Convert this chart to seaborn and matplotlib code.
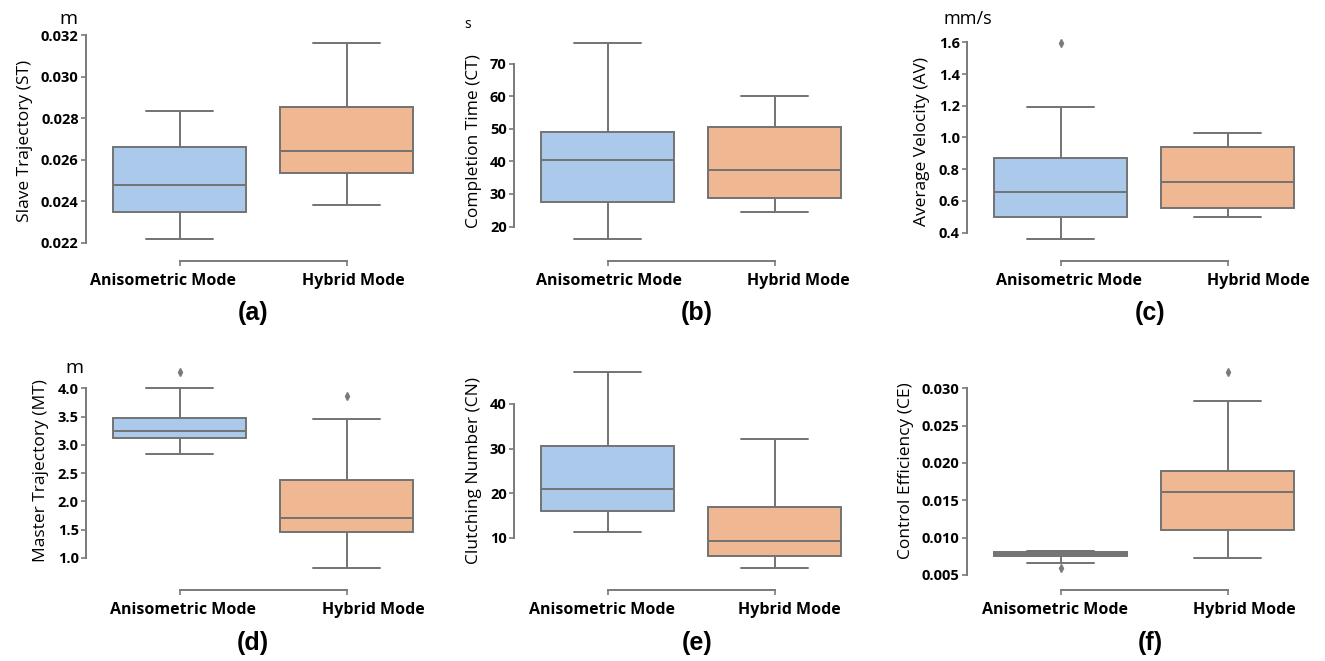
import matplotlib
matplotlib.use("Agg")
import matplotlib.pyplot as plt
from matplotlib.ticker import MultipleLocator
from matplotlib.transforms import ScaledTranslation
import seaborn as sns
import pandas as pd

# categories
modes = ["Anisometric Mode", "Hybrid Mode"]

# samples (whisker ends, quartiles, median, outliers)
st_aniso = [0.02216, 0.0230, 0.02349, 0.0241, 0.02477, 0.0256, 0.02659, 0.0275, 0.02832]
st_hybrid = [0.02381, 0.0249, 0.02536, 0.0259, 0.0264, 0.0275, 0.02851, 0.0300, 0.0316]

ct_aniso = [16.1, 22.0, 27.4, 35.0, 40.4, 45.0, 48.9, 60.0, 76.3]
ct_hybrid = [24.4, 27.0, 28.9, 33.0, 37.3, 44.0, 50.5, 55.0, 60.0]

av_aniso = [0.358, 0.45, 0.501, 0.58, 0.653, 0.75, 0.872, 1.194, 1.594]
av_hybrid = [0.495, 0.52, 0.552, 0.64, 0.716, 0.82, 0.937, 0.98, 1.029]

mt_aniso = [2.846, 3.0, 3.118, 3.18, 3.243, 3.35, 3.479, 4.006, 4.284]
mt_hybrid = [0.817, 1.2, 1.456, 1.55, 1.698, 2.0, 2.379, 3.45, 3.87]

cn_aniso = [11.27, 14.0, 16.1, 18.0, 20.97, 26.0, 30.5, 38.0, 47.1]
cn_hybrid = [3.2, 5.0, 5.9, 8.0, 9.25, 13.0, 16.9, 25.0, 32.2]

ce_aniso = [0.0059, 0.00665, 0.0075, 0.0076, 0.00777, 0.0079, 0.0081, 0.0082, 0.00826]
ce_hybrid = [0.00728, 0.0095, 0.01103, 0.0135, 0.01616, 0.0175, 0.01888, 0.02835, 0.03214]

y_labels = ["Slave Trajectory (ST)", "Completion Time (CT)", "Average Velocity (AV)",
            "Master Trajectory (MT)", "Clutching Number (CN)", "Control Efficiency (CE)"]
units = ["m", "s", "mm/s", "m", "", ""]
panel_tags = ["(a)", "(b)", "(c)", "(d)", "(e)", "(f)"]
tick_steps = [0.002, 10, 0.2, 0.5, 10, 0.005]

panels = [(st_aniso, st_hybrid), (ct_aniso, ct_hybrid), (av_aniso, av_hybrid),
          (mt_aniso, mt_hybrid), (cn_aniso, cn_hybrid), (ce_aniso, ce_hybrid)]

sns.set_theme(style="ticks")
plt.rcParams['font.family'] = ['Open Sans', 'DejaVu Sans']
plt.rcParams['text.color'] = 'black'
plt.rcParams['axes.labelcolor'] = 'black'
plt.rcParams['xtick.labelcolor'] = 'black'
plt.rcParams['ytick.labelcolor'] = 'black'

fig = plt.figure(figsize=(13.25, 6.61), dpi=100)

lefts = [0.0725, 0.3955, 0.7374]
bottoms = [0.6233, 0.1256]
w, h = 0.2521, 0.326
spine_col = "#7a7a7a"

# unit labels (x, y in figure px) and tag positions
unit_pos = [(68, 19), (468, 25), (968, 19), (74, 368), None, None]
unit_size = [14, 10, 13, 14, 0, 0]
tag_x = [253, 697, 1150]
tag_y = [313, 643]
# the x labels in the original sit a little off their ticks (px)
label_shift = [(-17, 7), (1, 24), (8, 31), (3, 27), (-6, 15), (-6, 17)]

for k, (a_vals, h_vals) in enumerate(panels):
    r, c = divmod(k, 3)
    ax = fig.add_axes([lefts[c], bottoms[r], w, h])
    df = pd.DataFrame({
        "mode": [modes[0]] * len(a_vals) + [modes[1]] * len(h_vals),
        "value": list(a_vals) + list(h_vals),
    })
    sns.boxplot(data=df, x="mode", y="value", hue="mode", palette="pastel",
                order=modes, width=0.8, linewidth=1.4, legend=False, ax=ax,
                flierprops=dict(marker="d", markersize=4,
                                markerfacecolor="#7a7a7a", markeredgecolor="#7a7a7a"))
    ax.yaxis.set_major_locator(MultipleLocator(tick_steps[k]))
    ax.set_xlabel("")
    ax.set_ylabel(y_labels[k], fontsize=12.5, labelpad=6)
    sns.despine(ax=ax, offset={"left": 7, "bottom": 9}, trim=True)
    for s in ["left", "bottom"]:
        ax.spines[s].set_color(spine_col)
        ax.spines[s].set_linewidth(1.4)
    ax.tick_params(axis="both", length=3.5, width=1.2, color=spine_col)
    ax.tick_params(axis="y", labelsize=10.5, pad=2)
    ax.tick_params(axis="x", labelsize=11.5, pad=5)
    for i, lab in enumerate(ax.get_xticklabels()):
        lab.set_fontweight("bold")
        dx = label_shift[k][i] / 100
        lab.set_transform(lab.get_transform() + ScaledTranslation(dx, 0, fig.dpi_scale_trans))
    for lab in ax.get_yticklabels():
        lab.set_fontweight("bold")

    if unit_pos[k] is not None:
        ux, uy = unit_pos[k]
        fig.text(ux / 1325, 1 - uy / 661, units[k], fontsize=unit_size[k],
                 ha="center", va="center")
    fig.text(tag_x[c] / 1325, 1 - tag_y[r] / 661, panel_tags[k], fontsize=18,
             fontweight="bold", family="Liberation Sans", ha="center", va="center")

fig.savefig("out.png", dpi=100)
